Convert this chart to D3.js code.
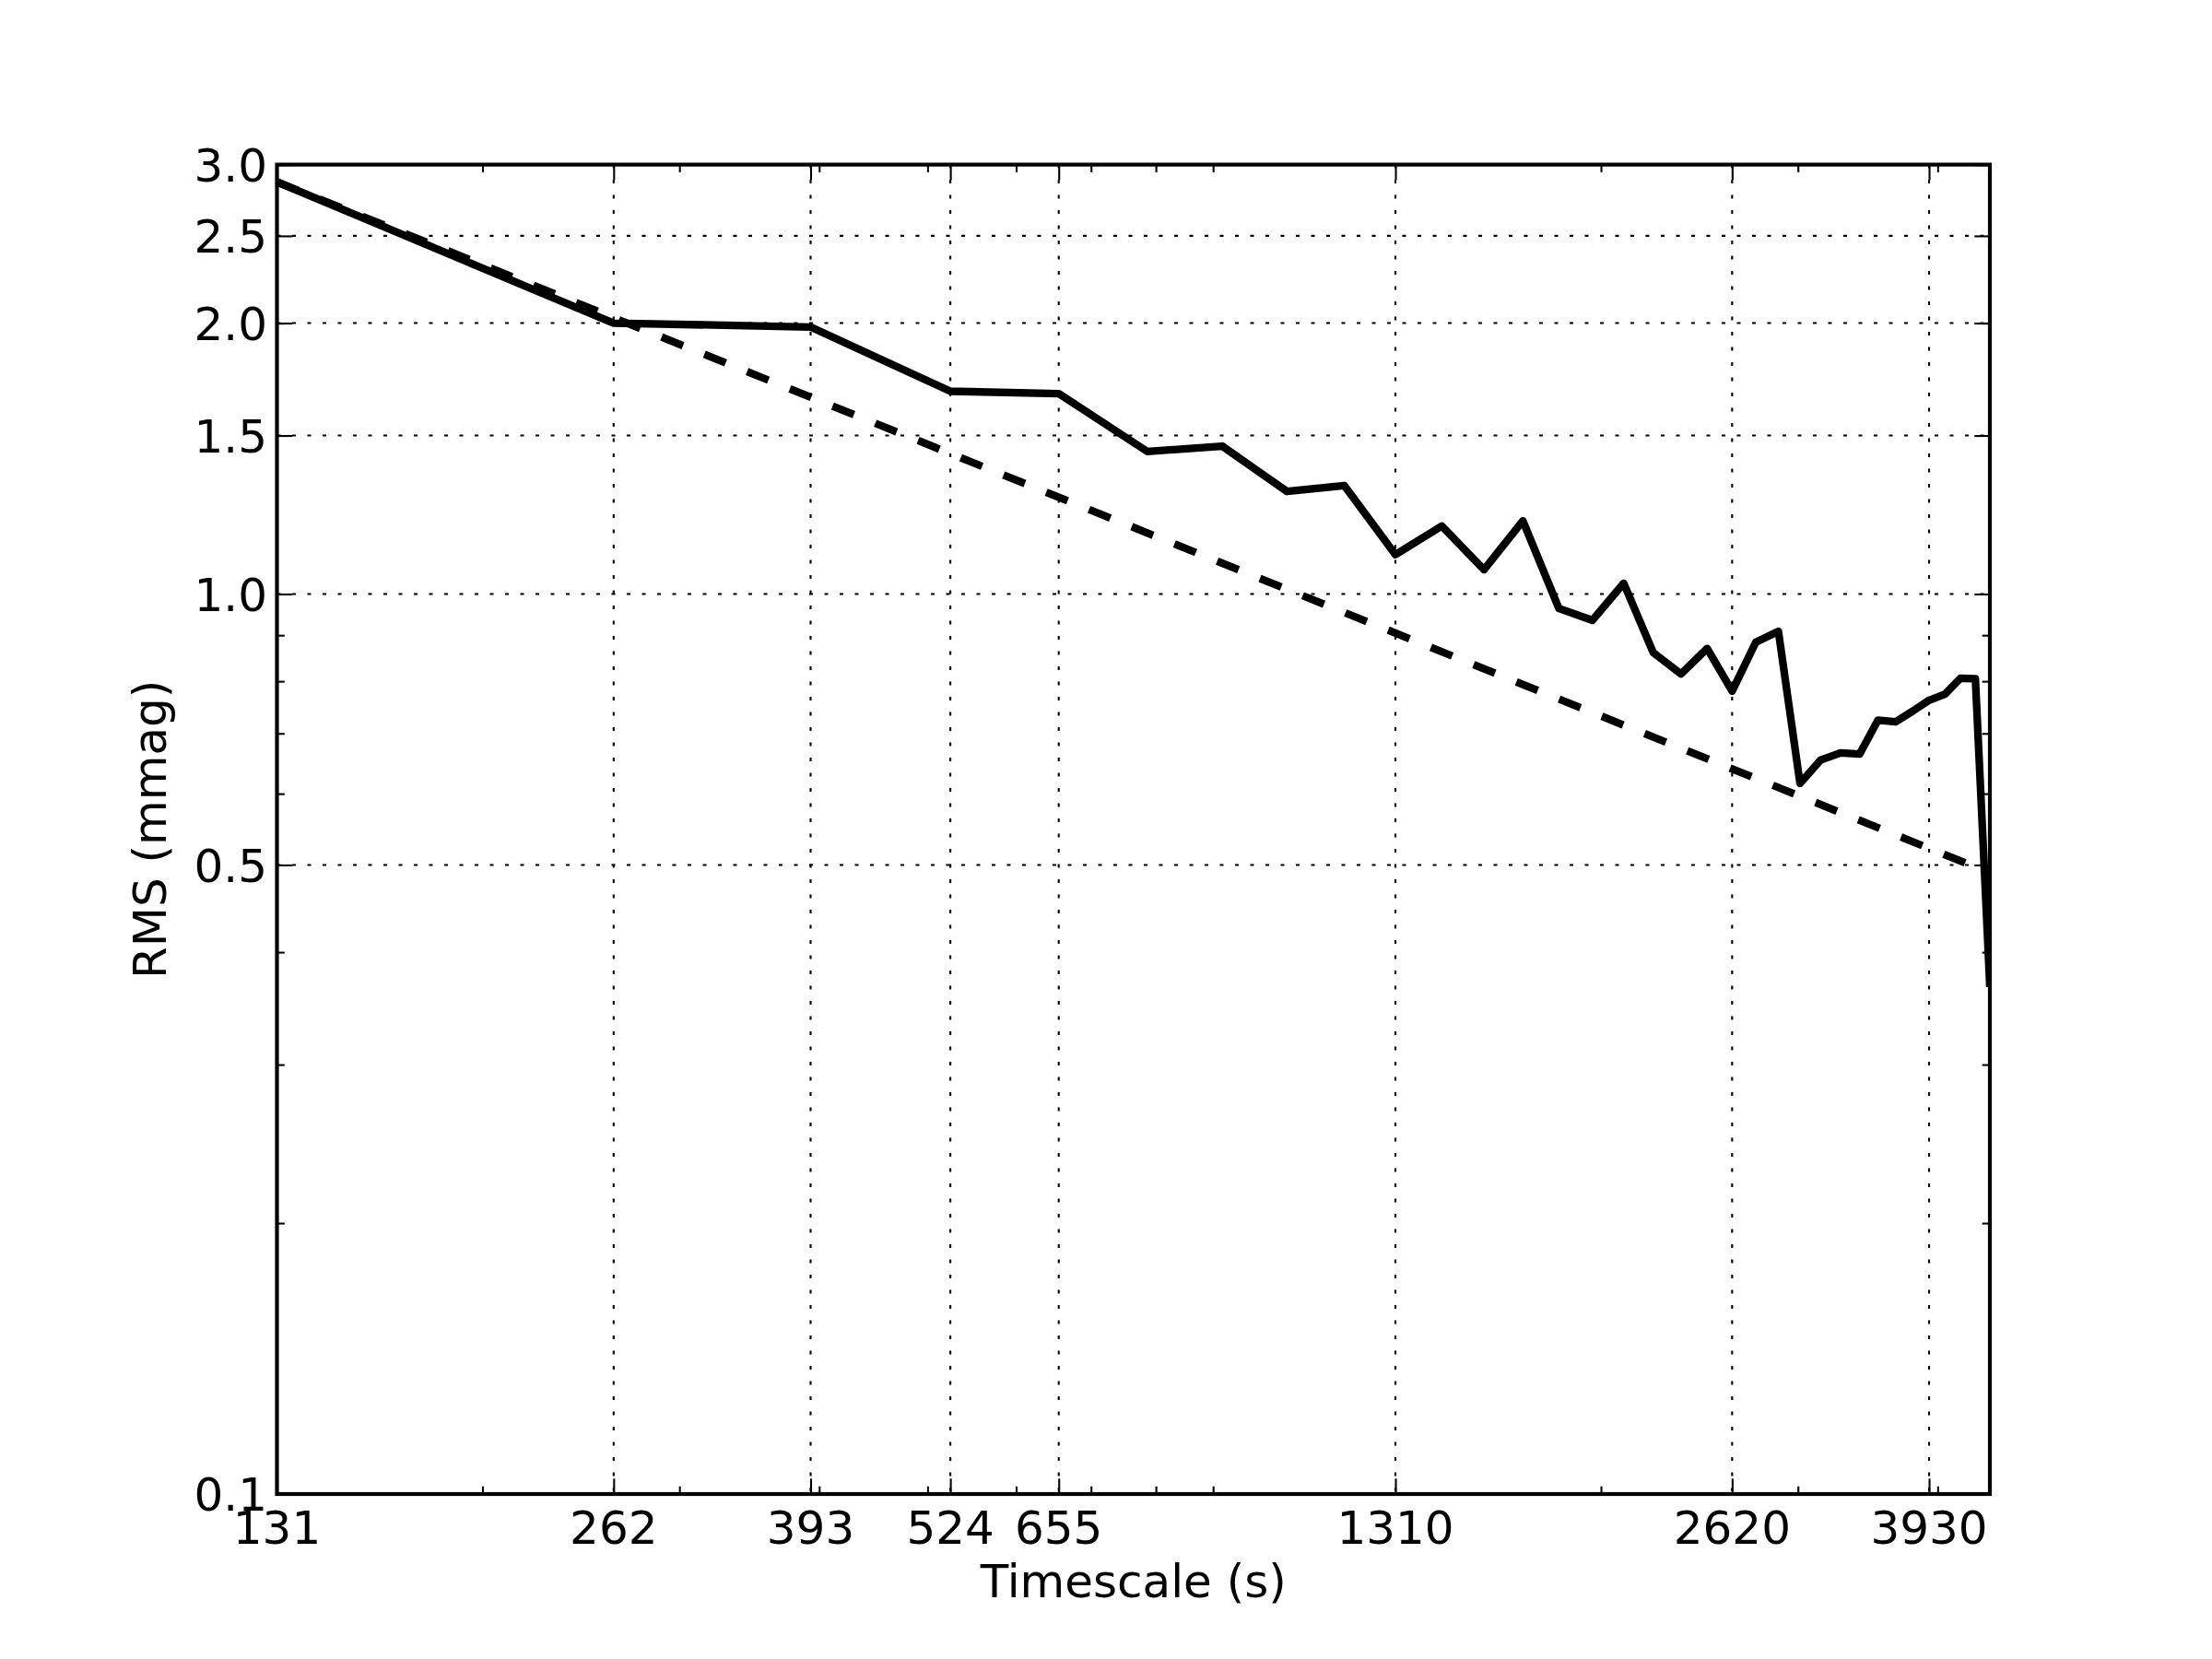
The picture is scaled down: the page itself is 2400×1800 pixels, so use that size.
<!DOCTYPE html>
<html>
<head>
<meta charset="utf-8">
<script src="https://cdn.jsdelivr.net/npm/d3@7"></script>
<style>
  html, body { margin: 0; padding: 0; background: #fff; }
  svg { display: block; }
  text { font-family: "DejaVu Sans", sans-serif; fill: #000; }
</style>
</head>
<body>
<script>
// ---- data ----
const timescale = [131, 262, 393, 524, 655, 786, 917, 1048, 1179, 1310, 1441, 1572, 1703, 1834, 1965, 2096, 2227,
  2358, 2489, 2620, 2751, 2882, 3013, 3144, 3275, 3406, 3537, 3668, 3799, 3930, 4061, 4192, 4323, 4454];
const rms = [2.87, 2.00, 1.98, 1.68, 1.67, 1.44, 1.46, 1.30, 1.32, 1.106, 1.19, 1.064, 1.206, 0.964, 0.935, 1.028, 0.861,
  0.815, 0.87, 0.78, 0.884, 0.909, 0.616, 0.654, 0.666, 0.664, 0.724, 0.721, 0.741, 0.762, 0.774, 0.806, 0.805, 0.366];
const expectedX = [131, 4454];
const expectedY = [2.87, 0.49];

const xTicks = [131, 262, 393, 524, 655, 1310, 2620, 3930];
const xMinorTicks = [200, 300, 400, 500, 600, 700, 800, 900, 2000, 3000, 4000];
const yTicks = [0.1, 0.5, 1.0, 1.5, 2.0, 2.5, 3.0];
const yTickLabels = ["0.1", "0.5", "1.0", "1.5", "2.0", "2.5", "3.0"];
const yMinorTicks = [0.2, 0.3, 0.4, 0.6, 0.7, 0.8, 0.9, 2, 3];
const xDomain = [131, 4454];
const yDomain = [0.1, 3.0];

// ---- layout ----
const W = 2400, H = 1800;
const L = 300.5, R = 2159, T = 178.6, B = 1621;

const svg = d3.select("body").append("svg").attr("width", W).attr("height", H);

const x = d3.scaleLog().domain(xDomain).range([L, R]);
const y = d3.scaleLog().domain(yDomain).range([B, T]);

svg.append("defs").append("clipPath").attr("id", "clip")
  .append("rect").attr("x", L).attr("y", T).attr("width", R - L).attr("height", B - T);

// lines
const line = d3.line().x(d => x(d[0])).y(d => y(d[1]));
const plot = svg.append("g").attr("clip-path", "url(#clip)");

plot.append("path")
  .datum(expectedX.map((v, i) => [v, expectedY[i]]))
  .attr("d", line)
  .attr("fill", "none").attr("stroke", "#000").attr("stroke-width", 8.3)
  .attr("stroke-dasharray", "25,25").attr("stroke-linecap", "butt");

plot.append("path")
  .datum(timescale.map((v, i) => [v, rms[i]]))
  .attr("d", line)
  .attr("fill", "none").attr("stroke", "#000").attr("stroke-width", 8.3)
  .attr("stroke-linejoin", "round").attr("stroke-linecap", "butt");

// grid
const grid = svg.append("g");
grid.selectAll(".gx").data(xTicks).enter().append("line")
  .attr("x1", d => x(d)).attr("x2", d => x(d)).attr("y1", T).attr("y2", B)
  .attr("stroke", "#000").attr("stroke-width", 2.1).attr("stroke-dasharray", "4,12.5");
grid.selectAll(".gy").data(yTicks).enter().append("line")
  .attr("y1", d => y(d)).attr("y2", d => y(d)).attr("x1", L).attr("x2", R)
  .attr("stroke", "#000").attr("stroke-width", 2.1).attr("stroke-dasharray", "4,12.5");

// axes with inward ticks using d3 axes
const major = 16.7, minor = 8.3;
function styleAxis(g) {
  g.select(".domain").remove();
  g.selectAll(".tick line").attr("stroke", "#000").attr("stroke-width", 2.1);
  g.selectAll(".tick text").remove();
}
// bottom
svg.append("g").attr("transform", `translate(0,${B})`)
  .call(d3.axisTop(x).tickValues(xTicks).tickSize(major)).call(styleAxis);
svg.append("g").attr("transform", `translate(0,${B})`)
  .call(d3.axisTop(x).tickValues(xMinorTicks).tickSize(minor)).call(styleAxis);
// top
svg.append("g").attr("transform", `translate(0,${T})`)
  .call(d3.axisBottom(x).tickValues(xTicks).tickSize(major)).call(styleAxis);
svg.append("g").attr("transform", `translate(0,${T})`)
  .call(d3.axisBottom(x).tickValues(xMinorTicks).tickSize(minor)).call(styleAxis);
// left
svg.append("g").attr("transform", `translate(${L},0)`)
  .call(d3.axisRight(y).tickValues(yTicks).tickSize(major)).call(styleAxis);
svg.append("g").attr("transform", `translate(${L},0)`)
  .call(d3.axisRight(y).tickValues(yMinorTicks).tickSize(minor)).call(styleAxis);
// right
svg.append("g").attr("transform", `translate(${R},0)`)
  .call(d3.axisLeft(y).tickValues(yTicks).tickSize(major)).call(styleAxis);
svg.append("g").attr("transform", `translate(${R},0)`)
  .call(d3.axisLeft(y).tickValues(yMinorTicks).tickSize(minor)).call(styleAxis);

// frame
svg.append("rect").attr("x", L).attr("y", T).attr("width", R - L).attr("height", B - T)
  .attr("fill", "none").attr("stroke", "#000").attr("stroke-width", 4.2);

// tick labels
svg.append("g").selectAll("text").data(xTicks).enter().append("text")
  .attr("x", d => x(d)).attr("y", 1675)
  .attr("text-anchor", "middle").attr("font-size", 50)
  .text(d => String(d));
svg.append("g").selectAll("text").data(yTicks).enter().append("text")
  .attr("x", 290).attr("y", d => y(d) + 18.2)
  .attr("text-anchor", "end").attr("font-size", 50)
  .text((d, i) => yTickLabels[i]);

// axis labels
svg.append("text").attr("x", (L + R) / 2).attr("y", 1733)
  .attr("text-anchor", "middle").attr("font-size", 50).text("Timescale (s)");
svg.append("text").attr("transform", `translate(180,${(T + B) / 2}) rotate(-90)`)
  .attr("text-anchor", "middle").attr("font-size", 50).text("RMS (mmag)");
</script>
</body>
</html>
